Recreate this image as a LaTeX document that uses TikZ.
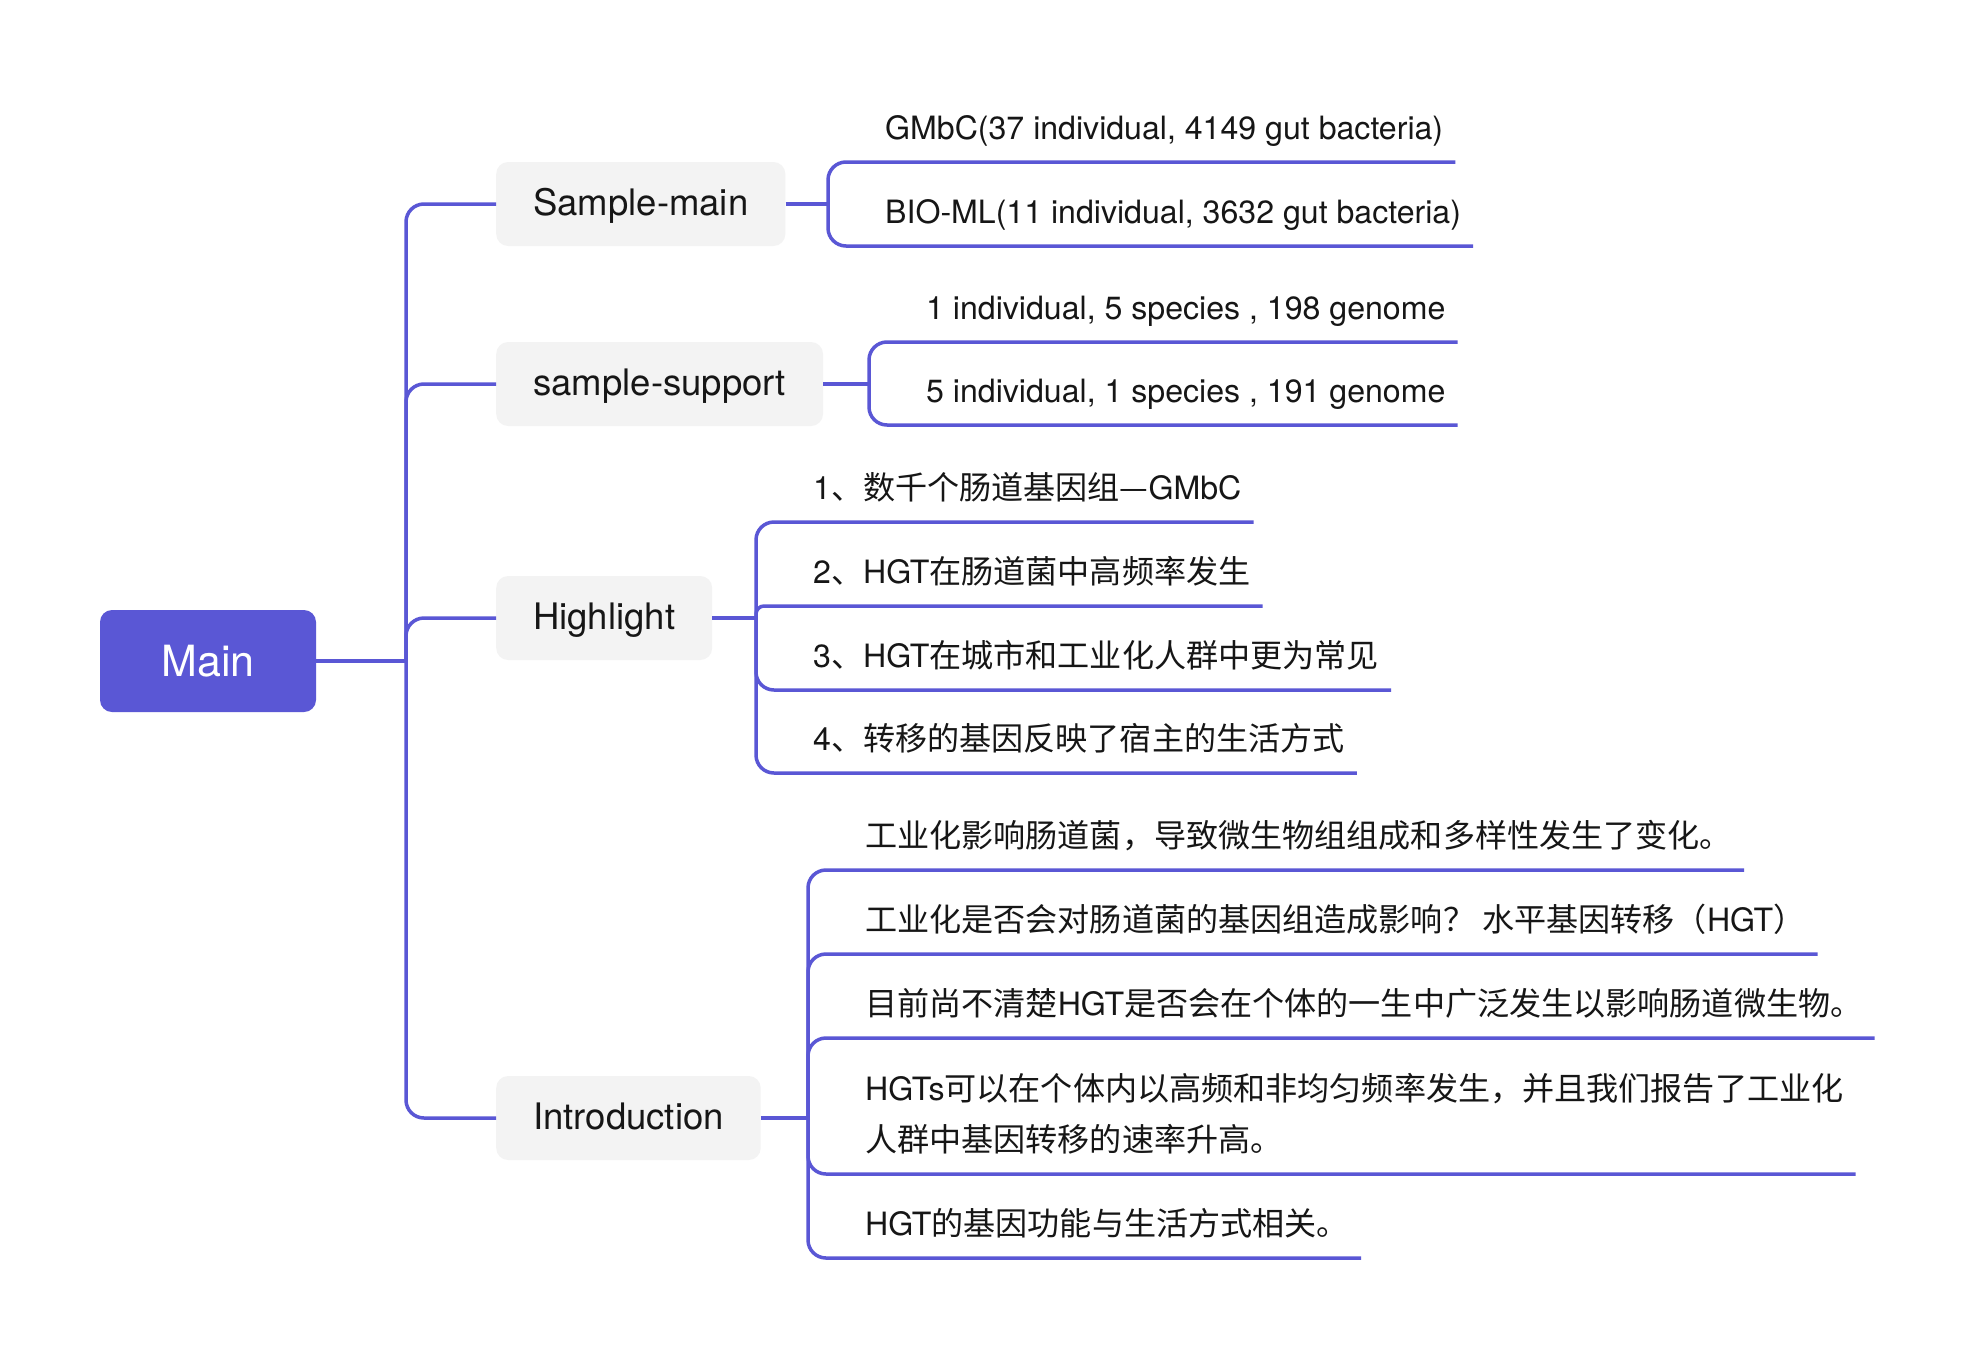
\documentclass[tikz,border=0pt]{standalone}
\usepackage{fontspec}
\setmainfont{TeX Gyre Heros}
\newfontfamily\cjk{Noto Sans CJK SC}
\newcommand\zh[1]{{\cjk #1}}
\definecolor{accent}{HTML}{5A57D5}
\definecolor{boxgrey}{HTML}{F3F3F3}
\definecolor{ink}{HTML}{161616}
\begin{document}
\begin{tikzpicture}[x=1pt,y=-1pt,
  link/.style={draw=accent,line width=3.5pt,rounded corners=18pt},
  straight/.style={draw=accent,line width=3.5pt},
  rootbox/.style={fill=accent,rounded corners=12pt,minimum width=216pt,minimum height=102pt,text=white,font=\fontsize{43}{50}\selectfont},
  branchbox/.style={fill=boxgrey,rounded corners=12pt,minimum height=84pt,inner xsep=37pt,text height=26pt,text depth=4pt,anchor=west,text=ink,font=\fontsize{36.5}{43}\selectfont},
  leafbase/.style={anchor=south west,inner xsep=12pt,inner ysep=15pt,text depth=7pt,text=ink,font=\fontsize{32.1}{51}\selectfont},
  leaf/.style={leafbase,text height=24pt}]
\fill[white] (0,0) rectangle (1967,1360);
\useasboundingbox (0,0) rectangle (1967,1360);

% root and first level
\node[rootbox] (main) at (208,661) {Main};
\coordinate (J) at (406,661);
\node[branchbox] (sm) at (496,204) {Sample-main};
\node[branchbox] (ss) at (496,384) {sample-support};
\node[branchbox] (hl) at (496,618) {Highlight};
\node[branchbox] (in) at (496,1118) {Introduction};
\draw[straight] (main.east) -- (J);
\foreach \b in {sm,ss,hl,in} \draw[link] (J) |- (\b.west);

% Sample-main
\coordinate (smB) at (828,204);
\draw[straight] (sm.east) -- (smB);
\node[leaf] (sm1) at (873,162) {GMbC(37 individual, 4149 gut bacteria)};
\node[leaf] (sm2) at (873,246) {BIO-ML(11 individual, 3632 gut bacteria)};
\foreach \c in {sm1,sm2} \draw[link] (smB) |- (\c.south east);

% sample-support
\coordinate (ssB) at (869,384);
\draw[straight] (ss.east) -- (ssB);
\node[leaf] (ss1) at (914,342) {1 individual, 5 species , 198 genome};
\node[leaf] (ss2) at (914,425) {5 individual, 1 species , 191 genome};
\foreach \c in {ss1,ss2} \draw[link] (ssB) |- (\c.south east);

% Highlight
\coordinate (hlB) at (756,618);
\draw[straight] (hl.east) -- (hlB);
\node[leaf] (hl1) at (801,522) {1\zh{、数千个肠道基因组—}GMbC};
\node[leaf] (hl2) at (801,606) {2\zh{、}HGT\zh{在肠道菌中高频率发生}};
\node[leaf] (hl3) at (801,690) {3\zh{、}HGT\zh{在城市和工业化人群中更为常见}};
\node[leaf] (hl4) at (801,773) {4\zh{、转移的基因反映了宿主的生活方式}};
\draw[link] (hlB) |- (hl1.south east);
\draw[link,rounded corners=8pt] (hlB) |- (hl2.south east);
\draw[link] (hlB) |- (hl3.south east);
\draw[link] (hlB) |- (hl4.south east);

% Introduction
\coordinate (inB) at (808,1118);
\draw[straight] (in.east) -- (inB);
\node[leaf] (in1) at (853,870) {\zh{工业化影响肠道菌，导致微生物组组成和多样性发生了变化。}};
\node[leaf] (in2) at (853,954) {\zh{工业化是否会对肠道菌的基因组造成影响？ 水平基因转移（}HGT\zh{）}};
\node[leaf] (in3) at (853,1038) {\zh{目前尚不清楚}HGT\zh{是否会在个体的一生中广泛发生以影响肠道微生物。}};
\node[leafbase] (in4) at (853,1174) {\vbox{\baselineskip=51pt\hbox{HGTs\zh{可以在个体内以高频和非均匀频率发生，并且我们报告了工业化}}\hbox{\zh{人群中基因转移的速率升高。}}}};
\node[leaf] (in5) at (853,1258) {HGT\zh{的基因功能与生活方式相关。}};
\foreach \c in {in1,in2,in3,in4,in5} \draw[link] (inB) |- (\c.south east);
\end{tikzpicture}
\end{document}
